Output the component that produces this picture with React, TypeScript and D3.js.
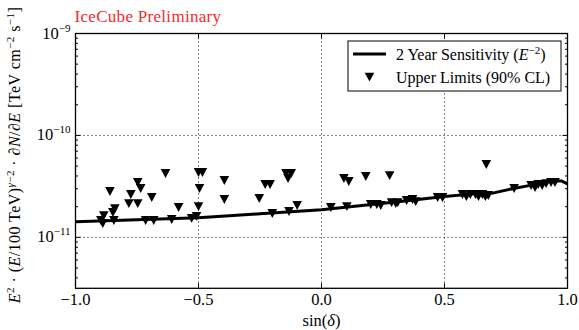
import React from "react";
import * as d3 from "d3";

// Sensitivity curve (sin(dec), flux)
const sensSinDec = [-1, -0.75, -0.5, -0.25, 0, 0.32, 0.5, 0.62, 0.7, 0.78, 0.86, 0.94, 0.975, 1.0];
const sensFlux = [1.425e-11, 1.49e-11, 1.553e-11, 1.7e-11, 1.87e-11, 2.25e-11, 2.52e-11, 2.67e-11, 2.73e-11, 3.02e-11, 3.27e-11, 3.59e-11, 3.58e-11, 3.35e-11];

// Upper limits (sin(dec), flux)
const ulSinDec = [
  -0.897, -0.889, -0.885, -0.86, -0.848, -0.84, -0.844, -0.783, -0.775, -0.747,
  -0.747, -0.735, -0.715, -0.69, -0.682, -0.634, -0.609, -0.581, -0.528, -0.508,
  -0.5, -0.484, -0.496, -0.5, -0.395, -0.395, -0.253, -0.229, -0.209, -0.2,
  -0.144, -0.123, -0.136, -0.132, -0.099, 0.038, 0.091, 0.111, 0.103, 0.18,
  0.2, 0.225, 0.241, 0.277, 0.285, 0.302, 0.31, 0.346, 0.37, 0.383,
  0.472, 0.492, 0.573, 0.589, 0.605, 0.626, 0.638, 0.654, 0.666, 0.678,
  0.67, 0.783, 0.852, 0.868, 0.881, 0.897, 0.913, 0.933, 0.949,
];
const ulFlux = [
  1.47e-11, 1.37e-11, 1.64e-11, 2.83e-11, 1.76e-11, 1.92e-11, 1.47e-11, 2.15e-11, 2.64e-11, 2.15e-11,
  3.46e-11, 3.02e-11, 1.47e-11, 2.47e-11, 1.47e-11, 4.24e-11, 1.5e-11, 1.97e-11, 1.54e-11, 1.61e-11,
  4.34e-11, 4.34e-11, 3.02e-11, 2.01e-11, 3.62e-11, 2.36e-11, 2.41e-11, 3.31e-11, 3.31e-11, 1.72e-11,
  4.24e-11, 4.24e-11, 3.79e-11, 1.8e-11, 2.06e-11, 1.97e-11, 3.79e-11, 3.54e-11, 2.01e-11, 3.96e-11,
  2.11e-11, 2.11e-11, 2.06e-11, 4.05e-11, 2.2e-11, 2.15e-11, 2.2e-11, 2.31e-11, 2.36e-11, 2.25e-11,
  2.47e-11, 2.47e-11, 2.64e-11, 2.52e-11, 2.64e-11, 2.64e-11, 2.52e-11, 2.64e-11, 2.52e-11, 2.58e-11,
  5.2e-11, 3.02e-11, 3.24e-11, 3.09e-11, 3.31e-11, 3.24e-11, 3.38e-11, 3.46e-11, 3.46e-11,
];

const xTicks = [-1, -0.5, 0, 0.5, 1];
const xTickLabels = ["\u22121.0", "\u22120.5", "0.0", "0.5", "1.0"];
const yTicks = [1e-11, 1e-10, 1e-9];
const yTickExps = ["\u221211", "\u221210", "\u22129"];
const titleText = "IceCube Preliminary";
const legendLabels = ["2 Year Sensitivity (", "Upper Limits (90% CL)"];

const W = 579;
const H = 330;
const FONT = "'Liberation Serif', 'Times New Roman', serif";

export default function App() {
  const left = 75.5, right = 567.5, top = 33.5, bottom = 288.3;
  const x = d3.scaleLinear().domain([-1, 1]).range([left, right]);
  const y = d3.scaleLog().domain([Math.pow(10, -11.5), 1e-9]).range([bottom, top]);

  const sensPts = sensSinDec.map((s, i) => [s, sensFlux[i]] as [number, number]);
  const line = d3.line<[number, number]>().x((d) => x(d[0])).y((d) => y(d[1]));

  const minor: number[] = [];
  for (let e = -12; e <= -10; e++) {
    for (let k = 2; k <= 9; k++) {
      const v = k * Math.pow(10, e);
      if (v >= y.domain()[0] && v <= y.domain()[1]) minor.push(v);
    }
  }

  const tri = "M-4.8,-4.3L4.8,-4.3L0,4.6Z";

  return (
    <div style={{ position: "absolute", left: 0, top: 0 }}>
      <svg width={W} height={H} viewBox={`0 0 ${W} ${H}`} style={{ display: "block", background: "#fff" }}>
        <rect x={0} y={0} width={W} height={H} fill="#fff" />
        {/* grid */}
        {xTicks.filter((t) => t > -1 && t < 1).map((t) => (
          <line key={"gx" + t} x1={x(t)} x2={x(t)} y1={top} y2={bottom} stroke="#000" strokeWidth={1} strokeDasharray="1,3" />
        ))}
        {yTicks.filter((t) => t < 1e-9).map((t) => (
          <line key={"gy" + t} x1={left} x2={right} y1={y(t)} y2={y(t)} stroke="#000" strokeWidth={1} strokeDasharray="1,3" />
        ))}
        {/* sensitivity */}
        <path d={line(sensPts) || ""} fill="none" stroke="#000" strokeWidth={3} strokeLinejoin="round" />
        {/* upper limits */}
        {ulSinDec.map((s, i) => (
          <path key={"ul" + i} d={tri} transform={`translate(${x(s)},${y(ulFlux[i])})`} fill="#000" />
        ))}
        {/* frame */}
        <rect x={left} y={top} width={right - left} height={bottom - top} fill="none" stroke="#000" strokeWidth={1.3} />
        {/* x ticks */}
        {xTicks.map((t) => (
          <g key={"xt" + t}>
            <line x1={x(t)} x2={x(t)} y1={bottom} y2={bottom - 5} stroke="#000" />
            <line x1={x(t)} x2={x(t)} y1={top} y2={top + 5} stroke="#000" />
          </g>
        ))}
        {xTicks.map((t, i) => (
          <text key={"xl" + t} x={x(t)} y={bottom + 17} textAnchor="middle" fontFamily={FONT} fontSize={16.5}>
            {xTickLabels[i]}
          </text>
        ))}
        {/* y ticks */}
        {yTicks.map((t) => (
          <g key={"yt" + t}>
            <line x1={left} x2={left + 5} y1={y(t)} y2={y(t)} stroke="#000" />
            <line x1={right} x2={right - 5} y1={y(t)} y2={y(t)} stroke="#000" />
          </g>
        ))}
        {minor.map((t) => (
          <g key={"ym" + t}>
            <line x1={left} x2={left + 2.5} y1={y(t)} y2={y(t)} stroke="#000" />
            <line x1={right} x2={right - 2.5} y1={y(t)} y2={y(t)} stroke="#000" />
          </g>
        ))}
        {yTicks.map((t, i) => (
          <text key={"yl" + t} x={left - 5} y={y(t) + 5} textAnchor="end" fontFamily={FONT} fontSize={16.5}>
            10
            <tspan dy={-7} fontSize={11}>{yTickExps[i]}</tspan>
          </text>
        ))}
        {/* axis labels */}
        <text x={x(0)} y={326} textAnchor="middle" fontFamily={FONT} fontSize={16.5}>
          sin(<tspan fontStyle="italic">δ</tspan>)
        </text>
        <text transform={`translate(20,155) rotate(-90)`} textAnchor="middle" fontFamily={FONT} fontSize={16} letterSpacing={0.45}>
          <tspan fontStyle="italic">E</tspan>
          <tspan dy={-6} fontSize={11}>2</tspan>
          <tspan dy={6}> · (</tspan>
          <tspan fontStyle="italic">E</tspan>
          <tspan>/100 TeV)</tspan>
          <tspan dy={-6} fontSize={11} fontStyle="italic">γ</tspan>
          <tspan dy={0} fontSize={11}>−2</tspan>
          <tspan dy={6}> · ∂</tspan>
          <tspan fontStyle="italic">N</tspan>
          <tspan>/∂</tspan>
          <tspan fontStyle="italic">E</tspan>
          <tspan>  [TeV cm</tspan>
          <tspan dy={-6} fontSize={11}>−2</tspan>
          <tspan dy={6}> s</tspan>
          <tspan dy={-6} fontSize={11}>−1</tspan>
          <tspan dy={6}>]</tspan>
        </text>
        {/* title */}
        <text x={left - 1} y={22} fontFamily={FONT} fontSize={17} letterSpacing={0.3} fill="#f52a2a">
          {titleText}
        </text>
        {/* legend */}
        <rect x={348} y={41} width={213} height={50} fill="#fff" stroke="#000" strokeWidth={1} />
        <line x1={353} x2={386} y1={54} y2={54} stroke="#000" strokeWidth={3} />
        <text x={396} y={59.5} fontFamily={FONT} fontSize={16}>
          {legendLabels[0]}
          <tspan fontStyle="italic">E</tspan>
          <tspan dy={-6} fontSize={11}>−2</tspan>
          <tspan dy={6}>)</tspan>
        </text>
        <path d={tri} transform="translate(369.5,77)" fill="#000" />
        <text x={396} y={82.5} fontFamily={FONT} fontSize={16}>
          {legendLabels[1]}
        </text>
      </svg>
    </div>
  );
}
